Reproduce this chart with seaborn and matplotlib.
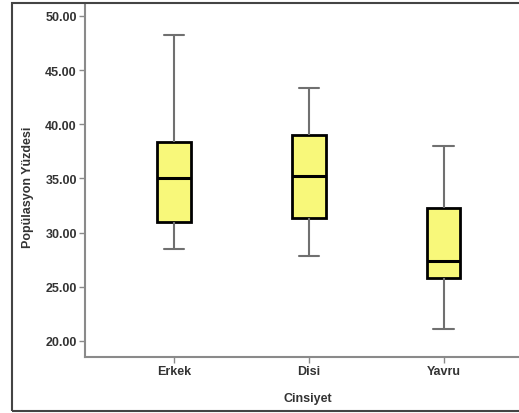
import numpy as np
import pandas as pd
import matplotlib
matplotlib.use('Agg')
import matplotlib.pyplot as plt
import seaborn as sns
from matplotlib.patches import Rectangle

# five-number summaries: low whisker, Q1, median, Q3, high whisker
groups = ['Erkek', 'Disi', 'Yavru']
erkek = [28.5, 31.0, 35.0, 38.4, 48.2]
disi = [27.8, 31.3, 35.2, 39.0, 43.3]
yavru = [21.1, 25.8, 27.4, 32.3, 38.0]
y_ticks = [20, 25, 30, 35, 40, 45, 50]

df = pd.DataFrame({
    'Cinsiyet': np.repeat(groups, 5),
    'value': erkek + disi + yavru,
})

sns.set_style('white')
plt.rcParams['font.family'] = ['Liberation Sans', 'DejaVu Sans']

fig = plt.figure(figsize=(5.19, 4.14), dpi=100)
ax = fig.add_axes([0.164, 0.135, 0.836, 0.853])

sns.boxplot(data=df, x='Cinsiyet', y='value', order=groups, whis=(0, 100),
            width=0.25, color='#F8F87A', saturation=1, linewidth=2, ax=ax,
            boxprops=dict(edgecolor='black', linewidth=2),
            medianprops=dict(color='black', linewidth=2.2),
            whiskerprops=dict(color='#707070', linewidth=1.5),
            capprops=dict(color='#707070', linewidth=1.5),
            capwidths=0.15)

ax.set_ylim(18.5, 51.1)
ax.set_xlim(-0.66, 2.56)
ax.set_yticks(y_ticks)
ax.set_yticklabels([f'{v:.2f}' for v in y_ticks])

for s in ['top', 'right']:
    ax.spines[s].set_visible(False)
for s in ['left', 'bottom']:
    ax.spines[s].set_color('#8a8a8a')
    ax.spines[s].set_linewidth(1.5)

ax.tick_params(axis='both', direction='out', length=4, width=1, color='#8a8a8a',
               labelsize=9, labelcolor='#333333', pad=2, left=True, bottom=True)
for lab in ax.get_xticklabels() + ax.get_yticklabels():
    lab.set_fontweight('bold')

ax.set_xlabel('Cinsiyet', fontsize=9, fontweight='bold', color='#333333')
ax.set_ylabel('Popülasyon Yüzdesi', fontsize=9, fontweight='bold', color='#333333')
ax.xaxis.set_label_coords(0.514, -0.1)
ax.yaxis.set_label_coords(-0.118, 0.485)

fig.add_artist(Rectangle((12 / 519, 2 / 414), 1.0, 1 - 6 / 414, transform=fig.transFigure,
                         fill=False, edgecolor='#444444', linewidth=1.5))

fig.savefig('out.png', dpi=100)
